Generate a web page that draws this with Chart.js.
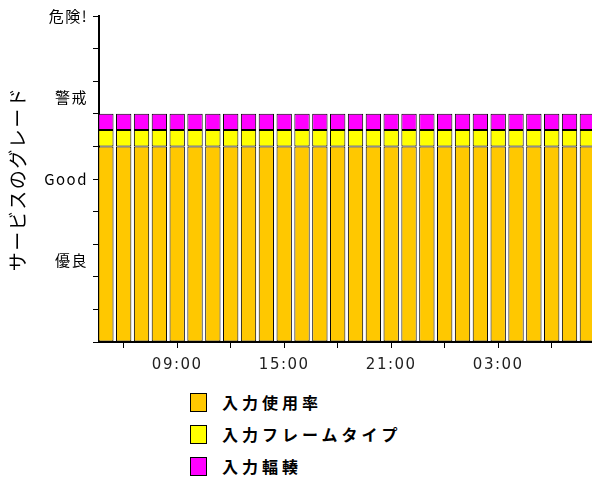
<!DOCTYPE html>
<html>
<head>
<meta charset="utf-8">
<script src="https://cdn.jsdelivr.net/npm/chart.js@4/dist/chart.umd.min.js"></script>
<style>
  html, body { margin: 0; padding: 0; background: #fff; overflow: hidden; }
  #wrap { position: relative; width: 592px; height: 482px; }
  #box { position: absolute; left: 0; top: 0; width: 592px; height: 382px; }
  #legend { position: absolute; left: 190px; top: 386px; font-family: "Noto Sans CJK JP", sans-serif; font-weight: bold; font-size: 16px; letter-spacing: 4px; color: #000; }
  #legend .item { display: flex; align-items: center; height: 32px; }
  #legend .sw { width: 15px; height: 17px; border: 1px solid #000; margin-right: 15px; box-sizing: content-box; }
</style>
</head>
<body>
<div id="wrap">
  <div id="box"><canvas id="c"></canvas></div>
  <div id="legend"></div>
</div>
<script>
// Hourly samples, 05:00 through 08:00 of the next day (hours past midnight of day one)
const hours = [5, 6, 7, 8, 9, 10, 11, 12, 13, 14, 15, 16, 17, 18, 19, 20, 21, 22, 23, 24, 25, 26, 27, 28, 29, 30, 31, 32];

const seriesNames = ['入力使用率', '入力フレームタイプ', '入力輻輳'];
const inputUtilization = [6, 6, 6, 6, 6, 6, 6, 6, 6, 6, 6, 6, 6, 6, 6, 6, 6, 6, 6, 6, 6, 6, 6, 6, 6, 6, 6, 6];
const inputFrameType = [0.5, 0.5, 0.5, 0.5, 0.5, 0.5, 0.5, 0.5, 0.5, 0.5, 0.5, 0.5, 0.5, 0.5, 0.5, 0.5, 0.5, 0.5, 0.5, 0.5, 0.5, 0.5, 0.5, 0.5, 0.5, 0.5, 0.5, 0.5];
const inputCongestion = [0.5, 0.5, 0.5, 0.5, 0.5, 0.5, 0.5, 0.5, 0.5, 0.5, 0.5, 0.5, 0.5, 0.5, 0.5, 0.5, 0.5, 0.5, 0.5, 0.5, 0.5, 0.5, 0.5, 0.5, 0.5, 0.5, 0.5, 0.5];

// Grade labels on the y axis (value -> text)
const gradeValues = [2.5, 5, 7.5, 10];
const gradeLabels = ['優良', 'Good', '警戒', '危険!'];

const seriesColors = ['#FFC800', '#FFFF00', '#FF00FF'];
const seriesValues = [inputUtilization, inputFrameType, inputCongestion];

const datasets = seriesNames.map((name, i) => ({
  label: name,
  data: hours.map((h, j) => ({ x: h, y: seriesValues[i][j] })),
  backgroundColor: seriesColors[i],
  borderColor: '#000',
  borderWidth: 1,
  borderSkipped: false,
  categoryPercentage: 1,
  barPercentage: 0.86
}));

const fmtHour = v => String(v % 24).padStart(2, '0') + ':00';

// Slightly spaced lettering for the axis texts
const spacing = {
  id: 'spacing',
  beforeLayout: c => { c.ctx.letterSpacing = '1.5px'; },
  beforeDraw: c => { c.ctx.letterSpacing = '1.5px'; }
};

const chart = new Chart(document.getElementById('c'), {
  type: 'bar',
  data: { datasets },
  plugins: [spacing],
  options: {
    responsive: true,
    maintainAspectRatio: false,
    animation: false,
    layout: { padding: { top: 16, right: 0, bottom: 0, left: 0 } },
    plugins: { legend: { display: false }, tooltip: { enabled: false } },
    scales: {
      x: {
        type: 'linear',
        stacked: true,
        offset: false,
        min: 4.615,
        max: 32.26,
        afterBuildTicks: s => { s.ticks = [6, 9, 12, 15, 18, 21, 24, 27, 30].map(v => ({ value: v })); },
        afterFit: s => { s.height = 40; },
        border: { display: true, color: '#000', width: 2 },
        grid: { offset: false, drawOnChartArea: false, drawTicks: true, tickLength: 6, color: '#000', lineWidth: 1 },
        ticks: {
          autoSkip: false,
          maxRotation: 0,
          padding: 8,
          color: '#222',
          font: { family: 'DejaVu Sans', size: 15 },
          callback: v => (v % 6 === 3 ? fmtHour(v) : '')
        }
      },
      y: {
        stacked: true,
        min: 0,
        max: 10,
        afterBuildTicks: s => {
          s.ticks = [0, 1, 2, 2.5, 3, 4, 5, 6, 7, 7.5, 8, 9, 10].map(v => ({ value: v }));
        },
        afterFit: s => { s.width = 99; },
        border: { display: true, color: '#000', width: 2 },
        grid: {
          drawOnChartArea: false,
          drawTicks: true,
          tickLength: 6,
          lineWidth: 1,
          color: ctx => (ctx.tick && ctx.tick.value % 1 !== 0 ? 'rgba(0,0,0,0)' : '#000')
        },
        title: {
          display: true,
          text: 'サービスのグレード',
          color: '#000',
          font: { family: 'Noto Sans CJK JP', size: 19 },
          padding: { top: 6, bottom: 0 }
        },
        ticks: {
          autoSkip: false,
          padding: 5,
          color: '#000',
          font: { family: 'Noto Sans CJK JP', size: 15 },
          callback: v => {
            const k = gradeValues.indexOf(v);
            return k >= 0 ? gradeLabels[k] : '';
          }
        }
      }
    }
  }
});

// Vertical legend built from the chart's datasets
const legend = document.getElementById('legend');
chart.data.datasets.forEach(ds => {
  const item = document.createElement('div');
  item.className = 'item';
  const sw = document.createElement('span');
  sw.className = 'sw';
  sw.style.background = ds.backgroundColor;
  const tx = document.createElement('span');
  tx.textContent = ds.label;
  item.appendChild(sw);
  item.appendChild(tx);
  legend.appendChild(item);
});
</script>
</body>
</html>
